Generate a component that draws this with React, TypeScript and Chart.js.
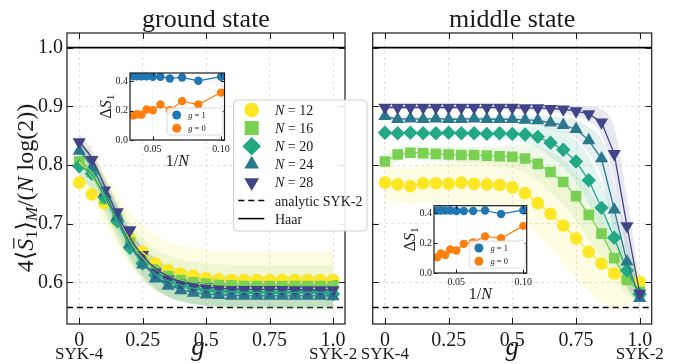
import React, { useEffect, useRef } from 'react';
import { Chart, registerables } from 'chart.js';

Chart.register(...registerables);

const SERIF = '"Liberation Serif", "DejaVu Serif", serif';
const INK = '#1a1a1a';

// ---------------- data ----------------
const G_VALUES = [0, 0.05, 0.1, 0.15, 0.2, 0.25, 0.3, 0.35, 0.4, 0.45, 0.5, 0.55, 0.6, 0.65, 0.7, 0.75, 0.8, 0.85, 0.9, 0.95, 1.0];
const N_VALUES = [12, 16, 20, 24, 28];
const SERIES_COLORS = ['#fde725', '#7ad151', '#22a884', '#2a788e', '#414487'];

// ground state: markers
const GS_N12 = [0.770, 0.750, 0.735, 0.705, 0.675, 0.652, 0.632, 0.621, 0.615, 0.611, 0.607, 0.605, 0.604, 0.604, 0.604, 0.604, 0.604, 0.604, 0.604, 0.604, 0.604];
const GS_N16 = [0.806, 0.788, 0.742, 0.708, 0.668, 0.640, 0.622, 0.611, 0.604, 0.600, 0.598, 0.596, 0.595, 0.595, 0.595, 0.595, 0.595, 0.595, 0.595, 0.595, 0.595];
const GS_N20 = [0.798, 0.785, 0.745, 0.704, 0.659, 0.632, 0.612, 0.601, 0.595, 0.590, 0.587, 0.585, 0.584, 0.583, 0.583, 0.583, 0.583, 0.583, 0.583, 0.583, 0.580];
const GS_N24 = [0.824, 0.796, 0.752, 0.712, 0.666, 0.630, 0.606, 0.594, 0.586, 0.582, 0.579, 0.578, 0.577, 0.577, 0.577, 0.577, 0.577, 0.577, 0.577, 0.577, 0.576];
const GS_N28 = [0.839, 0.809, 0.757, 0.720, 0.689, 0.647, 0.617, 0.605, 0.598, 0.594, 0.592, 0.590, 0.589, 0.588, 0.588, 0.588, 0.588, 0.587, 0.587, 0.587, 0.587];
// ground state: fitted curves
const GS_FIT12 = [0.805, 0.781, 0.745, 0.706, 0.674, 0.651, 0.634, 0.623, 0.616, 0.611, 0.608, 0.606, 0.605, 0.604, 0.604, 0.604, 0.604, 0.604, 0.604, 0.604, 0.604];
const GS_FIT16 = [0.808, 0.787, 0.748, 0.707, 0.670, 0.642, 0.623, 0.611, 0.604, 0.600, 0.597, 0.596, 0.595, 0.595, 0.595, 0.595, 0.595, 0.595, 0.595, 0.595, 0.595];
const GS_FIT20 = [0.800, 0.783, 0.746, 0.703, 0.662, 0.633, 0.614, 0.602, 0.595, 0.590, 0.587, 0.585, 0.584, 0.583, 0.583, 0.583, 0.583, 0.583, 0.583, 0.583, 0.583];
const GS_FIT24 = [0.825, 0.797, 0.754, 0.709, 0.667, 0.634, 0.611, 0.597, 0.588, 0.583, 0.580, 0.579, 0.578, 0.577, 0.577, 0.577, 0.577, 0.577, 0.577, 0.577, 0.577];
const GS_FIT28 = [0.840, 0.811, 0.764, 0.716, 0.676, 0.645, 0.624, 0.610, 0.601, 0.596, 0.592, 0.590, 0.589, 0.588, 0.588, 0.588, 0.588, 0.588, 0.587, 0.587, 0.587];
// ground state: spread
const GS_SD12 = [0.040, 0.042, 0.044, 0.045, 0.046, 0.046, 0.047, 0.047, 0.047, 0.048, 0.048, 0.048, 0.048, 0.048, 0.048, 0.048, 0.048, 0.048, 0.048, 0.048, 0.048];
const GS_SD16 = [0.030, 0.031, 0.032, 0.033, 0.034, 0.034, 0.035, 0.035, 0.035, 0.035, 0.035, 0.035, 0.035, 0.035, 0.035, 0.035, 0.035, 0.035, 0.035, 0.035, 0.035];
const GS_SD20 = [0.023, 0.024, 0.025, 0.026, 0.026, 0.027, 0.027, 0.027, 0.027, 0.027, 0.027, 0.027, 0.027, 0.027, 0.027, 0.027, 0.027, 0.027, 0.027, 0.027, 0.027];
const GS_SD24 = [0.018, 0.019, 0.020, 0.020, 0.021, 0.021, 0.021, 0.021, 0.021, 0.021, 0.021, 0.021, 0.021, 0.021, 0.021, 0.021, 0.021, 0.021, 0.021, 0.021, 0.021];
const GS_SD28 = [0.014, 0.015, 0.015, 0.016, 0.016, 0.016, 0.016, 0.016, 0.016, 0.016, 0.016, 0.016, 0.016, 0.016, 0.016, 0.016, 0.016, 0.016, 0.016, 0.016, 0.016];

// middle state: markers
const MS_N12 = [0.770, 0.767, 0.764, 0.769, 0.769, 0.768, 0.770, 0.768, 0.767, 0.766, 0.762, 0.752, 0.735, 0.717, 0.697, 0.675, 0.652, 0.632, 0.615, 0.605, 0.601];
const MS_N16 = [0.806, 0.818, 0.821, 0.820, 0.819, 0.818, 0.817, 0.817, 0.816, 0.815, 0.814, 0.811, 0.802, 0.788, 0.771, 0.747, 0.715, 0.683, 0.641, 0.604, 0.584];
const MS_N20 = [0.855, 0.854, 0.855, 0.854, 0.854, 0.855, 0.854, 0.854, 0.853, 0.854, 0.853, 0.852, 0.848, 0.838, 0.826, 0.806, 0.774, 0.727, 0.676, 0.620, 0.580];
const MS_N24 = [0.883, 0.878, 0.879, 0.878, 0.879, 0.878, 0.878, 0.879, 0.878, 0.878, 0.878, 0.877, 0.876, 0.872, 0.868, 0.861, 0.842, 0.811, 0.724, 0.635, 0.573];
const MS_N28 = [0.898, 0.898, 0.898, 0.898, 0.898, 0.898, 0.898, 0.898, 0.898, 0.898, 0.898, 0.897, 0.897, 0.896, 0.895, 0.892, 0.887, 0.873, 0.819, 0.696, 0.581];
// middle state: spread
const MS_SD12 = [0.030, 0.030, 0.031, 0.032, 0.033, 0.034, 0.036, 0.038, 0.040, 0.043, 0.046, 0.050, 0.055, 0.060, 0.064, 0.067, 0.068, 0.066, 0.058, 0.045, 0.025];
const MS_SD16 = [0.012, 0.012, 0.012, 0.012, 0.012, 0.013, 0.013, 0.014, 0.015, 0.017, 0.020, 0.024, 0.029, 0.034, 0.038, 0.041, 0.042, 0.040, 0.035, 0.025, 0.015];
const MS_SD20 = [0.006, 0.006, 0.006, 0.006, 0.006, 0.006, 0.007, 0.007, 0.008, 0.009, 0.011, 0.014, 0.018, 0.024, 0.030, 0.036, 0.040, 0.042, 0.040, 0.030, 0.015];
const MS_SD24 = [0.004, 0.004, 0.004, 0.004, 0.004, 0.004, 0.004, 0.005, 0.005, 0.006, 0.007, 0.008, 0.009, 0.011, 0.013, 0.016, 0.022, 0.032, 0.045, 0.040, 0.015];
const MS_SD28 = [0.003, 0.003, 0.003, 0.003, 0.003, 0.003, 0.003, 0.003, 0.003, 0.004, 0.004, 0.005, 0.005, 0.006, 0.007, 0.009, 0.013, 0.022, 0.045, 0.050, 0.015];

const HAAR_VALUE = 1.0;
const SYK2_VALUE = 0.557;

const X_MIN = -0.048;
const X_MAX = 1.047;
const Y_MIN = 0.529;
const Y_MAX = 1.025;
const X_TICKS = [0, 0.25, 0.5, 0.75, 1.0];
const X_TICK_LABELS = ['0', '0.25', '0.5', '0.75', '1.0'];
const Y_TICKS = [0.6, 0.7, 0.8, 0.9, 1.0];
const Y_TICK_LABELS = ['0.6', '0.7', '0.8', '0.9', '1.0'];
const END_LABELS = ['SYK-4', 'SYK-2'];
const PANEL_TITLES = ['ground state', 'middle state'];

// insets
const INSET_N = [10, 12, 14, 16, 18, 20, 22, 24, 26, 28];
const GS_INSET_G1 = [0.430, 0.402, 0.425, 0.418, 0.430, 0.430, 0.432, 0.432, 0.432, 0.432];
const GS_INSET_G0 = [0.322, 0.241, 0.264, 0.202, 0.241, 0.202, 0.207, 0.172, 0.175, 0.166];
const MS_INSET_G1 = [0.420, 0.395, 0.418, 0.415, 0.415, 0.415, 0.418, 0.418, 0.418, 0.418];
const MS_INSET_G0 = [0.315, 0.232, 0.245, 0.205, 0.195, 0.150, 0.158, 0.120, 0.130, 0.105];
const INSET_X_TICKS = [0.05, 0.1];
const INSET_X_LABELS = ['0.05', '0.10'];
const INSET_Y_TICKS = [0, 0.2, 0.4];
const INSET_Y_LABELS = ['0.0', '0.2', '0.4'];
const INSET_COLORS = ['#1f77b4', '#ff7f0e'];
const INSET_LEGEND = ['1', '0'];

// ---------------- styling ----------------
const PT_STYLES = ['circle', 'rect', 'rectRot', 'triangle', 'triangle'];
const PT_ROT = [0, 0, 0, 0, 180];
const PT_RADII = [6.3, 7.5, 7.2, 7.6, 7.6];
const LEG_SHAPES = ['circle', 'square', 'diamond', 'triUp', 'triDown'];
const LEG_SIZES = [7.3, 7, 9.3, 8.5, 8.5];

function rgba(hex: string, a: number) {
  const n = parseInt(hex.slice(1), 16);
  return `rgba(${(n >> 16) & 255},${(n >> 8) & 255},${n & 255},${a})`;
}

function roundRectPath(ctx: CanvasRenderingContext2D, x: number, y: number, w: number, h: number, r: number) {
  ctx.beginPath();
  ctx.moveTo(x + r, y);
  ctx.arcTo(x + w, y, x + w, y + h, r);
  ctx.arcTo(x + w, y + h, x, y + h, r);
  ctx.arcTo(x, y + h, x, y, r);
  ctx.arcTo(x, y, x + w, y, r);
  ctx.closePath();
}

function drawShape(ctx: CanvasRenderingContext2D, shape: string, x: number, y: number, r: number, color: string) {
  ctx.fillStyle = color;
  ctx.beginPath();
  const c = Math.cos(Math.PI / 6);
  if (shape === 'circle') ctx.arc(x, y, r, 0, Math.PI * 2);
  else if (shape === 'square') ctx.rect(x - r, y - r, 2 * r, 2 * r);
  else if (shape === 'diamond') {
    ctx.moveTo(x, y - r); ctx.lineTo(x + r, y); ctx.lineTo(x, y + r); ctx.lineTo(x - r, y); ctx.closePath();
  } else if (shape === 'triUp') {
    ctx.moveTo(x, y - r); ctx.lineTo(x + r * c, y + r / 2); ctx.lineTo(x - r * c, y + r / 2); ctx.closePath();
  } else {
    ctx.moveTo(x, y + r); ctx.lineTo(x + r * c, y - r / 2); ctx.lineTo(x - r * c, y - r / 2); ctx.closePath();
  }
  ctx.fill();
}

type Seg = { t: string; it?: boolean; s?: number; dy?: number; over?: boolean };

function drawRich(ctx: CanvasRenderingContext2D, segs: Seg[], x0: number, by: number, size: number, align: 'center' | 'left') {
  const fonts = segs.map((sg) => `${sg.it ? 'italic ' : ''}${(size * (sg.s ?? 1)).toFixed(1)}px ${SERIF}`);
  const widths = segs.map((sg, i) => { ctx.font = fonts[i]; return ctx.measureText(sg.t).width; });
  const total = widths.reduce((a, b) => a + b, 0);
  let x = align === 'center' ? x0 - total / 2 : x0;
  ctx.textAlign = 'left';
  segs.forEach((sg, i) => {
    ctx.font = fonts[i];
    const y = by + (sg.dy ?? 0) * size;
    ctx.fillText(sg.t, x, y);
    if (sg.over) {
      ctx.save();
      ctx.lineWidth = Math.max(1, size * 0.05);
      ctx.strokeStyle = INK;
      ctx.beginPath();
      ctx.moveTo(x + size * 0.1, y - size * 0.8);
      ctx.lineTo(x + widths[i] + size * 0.04, y - size * 0.8);
      ctx.stroke();
      ctx.restore();
    }
    x += widths[i];
  });
}

const Y_LABEL_SEGS: Seg[] = [
  { t: '4' }, { t: '⟨' }, { t: 'S', it: true, over: true }, { t: '1', s: 0.7, dy: 0.15 },
  { t: '⟩' }, { t: 'M', it: true, s: 0.7, dy: 0.15 }, { t: '/(' }, { t: 'N', it: true }, { t: ' log(2))' },
];

// ---------------- main panels ----------------
function mainConfig(left: boolean): any {
  const markers = left ? [GS_N12, GS_N16, GS_N20, GS_N24, GS_N28] : [MS_N12, MS_N16, MS_N20, MS_N24, MS_N28];
  const fits = [GS_FIT12, GS_FIT16, GS_FIT20, GS_FIT24, GS_FIT28];
  const centers = left ? fits : markers;
  const sds = left ? [GS_SD12, GS_SD16, GS_SD20, GS_SD24, GS_SD28] : [MS_SD12, MS_SD16, MS_SD20, MS_SD24, MS_SD28];
  const datasets: any[] = [];
  datasets.push({
    data: [{ x: X_MIN, y: HAAR_VALUE }, { x: X_MAX, y: HAAR_VALUE }],
    borderColor: '#000', borderWidth: 1.6, pointRadius: 0, fill: false, order: 60,
  });
  datasets.push({
    data: [{ x: X_MIN, y: SYK2_VALUE }, { x: X_MAX, y: SYK2_VALUE }],
    borderColor: '#000', borderWidth: 1.6, borderDash: [6, 4], pointRadius: 0, fill: false, order: 60,
  });
  N_VALUES.forEach((_, i) => {
    const col = SERIES_COLORS[i];
    datasets.push({
      data: G_VALUES.map((g, j) => ({ x: g, y: centers[i][j] + sds[i][j] })),
      borderColor: 'rgba(0,0,0,0)', borderWidth: 0, pointRadius: 0, fill: false,
      cubicInterpolationMode: 'monotone', order: 50 - i * 2,
    });
    datasets.push({
      data: G_VALUES.map((g, j) => ({ x: g, y: centers[i][j] - sds[i][j] })),
      borderColor: 'rgba(0,0,0,0)', borderWidth: 0, pointRadius: 0, fill: '-1',
      backgroundColor: rgba(col, 0.12),
      cubicInterpolationMode: 'monotone', order: 50 - i * 2,
    });
  });
  N_VALUES.forEach((_, i) => {
    const col = SERIES_COLORS[i];
    datasets.push({
      data: G_VALUES.map((g, j) => ({ x: g, y: markers[i][j] })),
      showLine: !left, borderColor: col, borderWidth: 1.3, fill: false,
      pointStyle: PT_STYLES[i], pointRotation: PT_ROT[i], pointRadius: PT_RADII[i],
      pointBackgroundColor: col, pointBorderColor: col, pointBorderWidth: 0,
      order: 20 - i,
    });
  });
  if (left) {
    N_VALUES.forEach((_, i) => {
      datasets.push({
        data: G_VALUES.map((g, j) => ({ x: g, y: fits[i][j] })),
        borderColor: SERIES_COLORS[i], borderWidth: 1.4, pointRadius: 0, fill: false,
        cubicInterpolationMode: 'monotone', order: 10 - i,
      });
    });
  }

  const decor = {
    id: 'panelDecor',
    afterDraw(chart: any) {
      const { ctx, chartArea: a, scales } = chart;
      const xs = scales.x, ys = scales.y;
      ctx.save();
      ctx.strokeStyle = INK;
      ctx.lineWidth = 1.2;
      ctx.strokeRect(a.left, a.top, a.right - a.left, a.bottom - a.top);
      ctx.lineWidth = 1;
      ctx.beginPath();
      X_TICKS.forEach((v) => {
        const px = Math.round(xs.getPixelForValue(v)) + 0.5;
        ctx.moveTo(px, a.bottom); ctx.lineTo(px, a.bottom - 6);
        ctx.moveTo(px, a.top); ctx.lineTo(px, a.top + 6);
      });
      Y_TICKS.forEach((v) => {
        const py = Math.round(ys.getPixelForValue(v)) + 0.5;
        ctx.moveTo(a.left, py); ctx.lineTo(a.left + 6, py);
        ctx.moveTo(a.right, py); ctx.lineTo(a.right - 6, py);
      });
      ctx.stroke();

      ctx.fillStyle = INK;
      ctx.textAlign = 'center';
      ctx.textBaseline = 'alphabetic';
      ctx.font = `26px ${SERIF}`;
      ctx.fillText(left ? PANEL_TITLES[0] : PANEL_TITLES[1], (a.left + a.right) / 2, 27);

      ctx.font = `17px ${SERIF}`;
      ctx.fillText(END_LABELS[0], xs.getPixelForValue(0), 359);
      ctx.fillText(END_LABELS[1], xs.getPixelForValue(1), 359);

      ctx.font = `italic 27px ${SERIF}`;
      ctx.fillText('g', left ? (a.left + a.right) / 2 - 8 : (a.left + a.right) / 2, 355);

      if (left) {
        ctx.save();
        ctx.translate(33, 188);
        ctx.rotate(-Math.PI / 2);
        ctx.textBaseline = 'alphabetic';
        drawRich(ctx, Y_LABEL_SEGS, 0, 0, 24, 'center');
        ctx.restore();

        const bx = 233.5, by = 100, bw = 133.5, bh = 131;
        roundRectPath(ctx, bx, by, bw, bh, 4);
        ctx.fillStyle = 'rgba(255,255,255,0.9)';
        ctx.fill();
        ctx.strokeStyle = '#cfcfcf';
        ctx.lineWidth = 1;
        ctx.stroke();
        const rowY = (k: number) => 110 + 18.1 * k;
        N_VALUES.forEach((n, i) => {
          drawShape(ctx, LEG_SHAPES[i], 251.7, rowY(i), LEG_SIZES[i], SERIES_COLORS[i]);
          ctx.fillStyle = INK;
          ctx.textBaseline = 'alphabetic';
          drawRich(ctx, [{ t: 'N', it: true }, { t: ` = ${n}` }], 275, rowY(i) + 5, 14, 'left');
        });
        ctx.strokeStyle = '#000';
        ctx.lineWidth = 1.6;
        ctx.setLineDash([6, 4]);
        ctx.beginPath(); ctx.moveTo(238.3, rowY(5)); ctx.lineTo(264.3, rowY(5)); ctx.stroke();
        ctx.setLineDash([]);
        ctx.beginPath(); ctx.moveTo(238.3, rowY(6)); ctx.lineTo(264.3, rowY(6)); ctx.stroke();
        ctx.fillStyle = INK;
        ctx.font = `14px ${SERIF}`;
        ctx.textAlign = 'left';
        ctx.textBaseline = 'alphabetic';
        ctx.fillText('analytic SYK-2', 275, rowY(5) + 5);
        ctx.fillText('Haar', 275, rowY(6) + 5);
      }
      ctx.restore();
    },
  };

  return {
    type: 'line',
    data: { datasets },
    options: {
      responsive: false,
      animation: false,
      events: [],
      layout: { padding: left ? { left: 0, top: 33, right: 27, bottom: 0 } : { left: 0, top: 33, right: 24.3, bottom: 0 } },
      plugins: { legend: { display: false }, tooltip: { enabled: false }, title: { display: false } },
      scales: {
        x: {
          type: 'linear', min: X_MIN, max: X_MAX,
          afterBuildTicks: (s: any) => { s.ticks = X_TICKS.map((v) => ({ value: v })); },
          ticks: {
            font: { family: SERIF, size: 20 }, color: INK, padding: 5, maxRotation: 0, autoSkip: false,
            callback: (v: number) => X_TICK_LABELS[X_TICKS.indexOf(v)] ?? '',
          },
          grid: { color: '#dcdcdc', lineWidth: 0.8, drawTicks: false },
          border: { display: false, dash: [3, 3] },
          afterFit: (s: any) => { s.height = 40; },
        },
        y: {
          type: 'linear', min: Y_MIN, max: Y_MAX,
          afterBuildTicks: (s: any) => { s.ticks = Y_TICKS.map((v) => ({ value: v })); },
          ticks: {
            display: left,
            font: { family: SERIF, size: 20 }, color: INK, padding: 4,
            callback: (v: number) => Y_TICK_LABELS[Y_TICKS.indexOf(v)] ?? '',
          },
          grid: { color: '#dcdcdc', lineWidth: 0.8, drawTicks: false },
          border: { display: false, dash: [3, 3] },
          afterFit: (s: any) => { s.width = left ? 67 : 12.7; },
        },
      },
    },
    plugins: [decor],
  };
}

// ---------------- insets ----------------
function insetConfig(g1: number[], g0: number[], yMax: number, padTop: number, padRight: number): any {
  const series = [g1, g0];
  const datasets = series.map((vals, k) => ({
    data: INSET_N.map((n, i) => ({ x: 1 / n, y: vals[i] })),
    borderColor: INSET_COLORS[k], borderWidth: 1.2, fill: false,
    pointRadius: 4.2, pointBackgroundColor: INSET_COLORS[k], pointBorderWidth: 0,
    order: k,
  }));
  const decor = {
    id: 'insetDecor',
    beforeDraw(chart: any) {
      const { ctx, chartArea: a } = chart;
      ctx.save();
      ctx.fillStyle = '#fff';
      ctx.fillRect(a.left, a.top, a.right - a.left, a.bottom - a.top);
      ctx.restore();
    },
    afterDraw(chart: any) {
      const { ctx, chartArea: a, scales } = chart;
      const xs = scales.x, ys = scales.y;
      ctx.save();
      ctx.strokeStyle = INK;
      ctx.lineWidth = 1.2;
      ctx.strokeRect(a.left, a.top, a.right - a.left, a.bottom - a.top);
      ctx.lineWidth = 1;
      ctx.beginPath();
      INSET_X_TICKS.forEach((v) => {
        const px = Math.round(xs.getPixelForValue(v)) + 0.5;
        ctx.moveTo(px, a.bottom); ctx.lineTo(px, a.bottom - 3.5);
        ctx.moveTo(px, a.top); ctx.lineTo(px, a.top + 3.5);
      });
      INSET_Y_TICKS.forEach((v) => {
        const py = Math.round(ys.getPixelForValue(v)) + 0.5;
        ctx.moveTo(a.left, py); ctx.lineTo(a.left + 3.5, py);
        ctx.moveTo(a.right, py); ctx.lineTo(a.right - 3.5, py);
      });
      ctx.stroke();

      ctx.fillStyle = INK;
      ctx.textBaseline = 'alphabetic';
      drawRich(ctx, [{ t: '1/' }, { t: 'N', it: true }], (a.left + a.right) / 2, a.bottom + 26, 16, 'center');
      ctx.save();
      ctx.translate(a.left - 19, (a.top + a.bottom) / 2);
      ctx.rotate(-Math.PI / 2);
      drawRich(ctx, [{ t: 'Δ' }, { t: 'S', it: true }, { t: '1', s: 0.7, dy: 0.2 }], 0, 0, 16, 'center');
      ctx.restore();

      const bw = 56, bh = 27;
      const bx = a.right - 1.5 - bw, by = a.bottom - 5 - bh;
      roundRectPath(ctx, bx, by, bw, bh, 2.5);
      ctx.fillStyle = 'rgba(255,255,255,0.85)';
      ctx.fill();
      ctx.strokeStyle = '#d0d0d0';
      ctx.lineWidth = 0.8;
      ctx.stroke();
      INSET_LEGEND.forEach((lab, k) => {
        const ry = by + 7 + k * 13.3;
        drawShape(ctx, 'circle', bx + 9.7, ry, 4.5, INSET_COLORS[k]);
        ctx.fillStyle = INK;
        drawRich(ctx, [{ t: 'g', it: true }, { t: ` = ${lab}` }], bx + 30, ry + 3, 8.5, 'center');
      });
      ctx.restore();
    },
  };
  return {
    type: 'line',
    data: { datasets },
    options: {
      responsive: false,
      animation: false,
      events: [],
      layout: { padding: { left: 0, top: padTop, right: padRight, bottom: 0 } },
      plugins: { legend: { display: false }, tooltip: { enabled: false } },
      scales: {
        x: {
          type: 'linear', min: 0.0333, max: 0.1025,
          afterBuildTicks: (s: any) => { s.ticks = INSET_X_TICKS.map((v) => ({ value: v })); },
          ticks: {
            font: { family: SERIF, size: 10 }, color: INK, padding: 3, maxRotation: 0, autoSkip: false,
            callback: (v: number) => INSET_X_LABELS[INSET_X_TICKS.indexOf(v)] ?? '',
          },
          grid: { color: '#e4e4e4', lineWidth: 0.7, drawTicks: false },
          border: { display: false, dash: [2, 2] },
          afterFit: (s: any) => { s.height = 35; },
        },
        y: {
          type: 'linear', min: 0, max: yMax,
          afterBuildTicks: (s: any) => { s.ticks = INSET_Y_TICKS.map((v) => ({ value: v })); },
          ticks: {
            font: { family: SERIF, size: 10 }, color: INK, padding: 2,
            callback: (v: number) => INSET_Y_LABELS[INSET_Y_TICKS.indexOf(v)] ?? '',
          },
          grid: { color: '#e4e4e4', lineWidth: 0.7, drawTicks: false },
          border: { display: false, dash: [2, 2] },
          afterFit: (s: any) => { s.width = 35; },
        },
      },
    },
    plugins: [decor],
  };
}

function ChartCanvas({ make, left, top, w, h, z }: { make: () => any; left: number; top: number; w: number; h: number; z: number }) {
  const ref = useRef<HTMLCanvasElement>(null);
  useEffect(() => {
    const chart = new Chart(ref.current as HTMLCanvasElement, make());
    return () => chart.destroy();
  }, []);
  return (
    <canvas
      ref={ref}
      width={w}
      height={h}
      style={{ position: 'absolute', left, top, width: w, height: h, zIndex: z }}
    />
  );
}

export default function App() {
  useEffect(() => {
    document.body.style.margin = '0';
    document.body.style.background = '#fff';
  }, []);
  return (
    <div style={{ position: 'relative', width: 676, height: 364, overflow: 'hidden', background: '#fff' }}>
      <ChartCanvas make={() => mainConfig(false)} left={360} top={0} w={316} h={364} z={1} />
      <ChartCanvas make={() => mainConfig(true)} left={0} top={0} w={372} h={364} z={2} />
      <ChartCanvas make={() => insetConfig(GS_INSET_G1, GS_INSET_G0, 0.455, 13, 10.5)} left={95} top={60} w={140} h={115} z={3} />
      <ChartCanvas make={() => insetConfig(MS_INSET_G1, MS_INSET_G0, 0.45, 12.7, 12.3)} left={399} top={193} w={140} h={115} z={3} />
    </div>
  );
}
